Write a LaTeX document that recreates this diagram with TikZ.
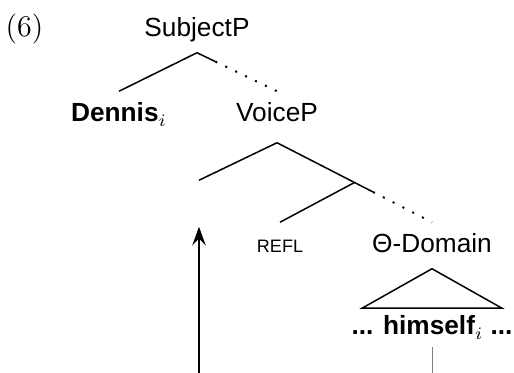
\documentclass[tikz,border=0pt]{standalone}
\usepackage{fontspec}
\setsansfont{Liberation Sans}
\usetikzlibrary{positioning, calc, arrows.meta}

\begin{document}
\begin{tikzpicture}[>={Stealth[length=7.5pt,width=5.4pt,inset=2.8pt]},
                semithick, on grid]

                % Define the styles for the tree
                \tikzset{cat/.style={font=\sffamily\fontsize{10.5}{12.6}\selectfont,
                                     text height=8pt, text depth=2pt, inner xsep=1pt, inner ysep=4pt},
                         dots/.style={line width=0.8pt, dash pattern=on 0.8pt off 3.6pt}}

                \useasboundingbox (0,0) rectangle (205.6pt,-149.2pt);

                % Nodes
                \node[cat] (subj) at (78.8pt,-11.8pt) {SubjectP};
                \node[cat, font=\rmfamily\fontsize{12}{14.4}\selectfont, left=69pt of subj] (ex) {(6)};
                \node[cat, below left=34pt and 31.2pt of subj] (dennis) {\bfseries Dennis$_i$};
                \node[cat, below right=34pt and 32pt of subj] (voice) {VoiceP};
                \node[cat, below left=35.6pt and 31.2pt of voice] (gap) {}; % empty landing site
                \node[cat, font=\sffamily\fontsize{7.2}{8.6}\selectfont, below right=52.4pt and 1.2pt of voice] (refl) {REFL};
                \node[cat, right=60.8pt of refl] (theta) {Θ-Domain};
                \node[cat, font=\sffamily\bfseries\fontsize{10.5}{12.6}\selectfont, inner ysep=2.4pt,
                      below=32.8pt of theta] (him) {... himself$_i$ ...};
                \coordinate[below=67.8pt of gap] (foot);
                \coordinate[below=18.2pt of him] (himfoot);
                \coordinate (bar) at ($([yshift=-2pt]voice.south)!0.5!(theta.north)$);

                % Paths
                \draw (subj.south) -- (dennis.north);
                \draw (subj.south) -- ($(subj.south)!0.23!(voice.north)$) coordinate (subjdot);
                \draw[dots] (subjdot) -- (voice.north);
                \draw ([yshift=-2pt]voice.south) -- (gap.north);
                \draw ([yshift=-2pt]voice.south) -- ($([yshift=-2pt]voice.south)!0.62!(theta.north)$) coordinate (voicedot);
                \draw[dots] (voicedot) -- (theta.north);
                \draw (bar) -- (refl.north);
                \draw (theta.south) -- ([xshift=-28pt]him.north) -- ([xshift=28pt]him.north) -- cycle;
                \draw[->] (foot) -- (gap.south);
                \draw[gray, thin] (him.south) -- (himfoot);
            \end{tikzpicture}
\end{document}
